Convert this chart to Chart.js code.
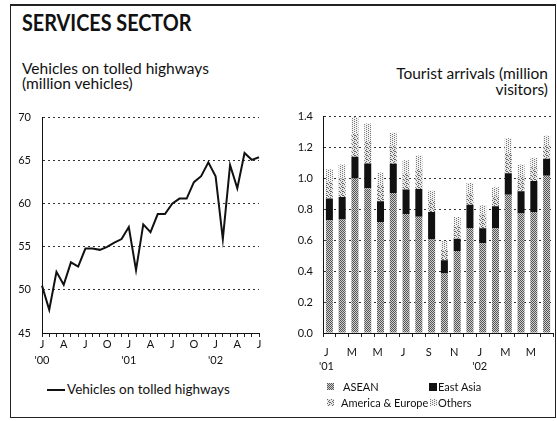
<!DOCTYPE html>
<html><head><meta charset="utf-8">
<script src="https://cdn.jsdelivr.net/npm/chart.js@4"></script>
<style>
html,body{margin:0;padding:0;background:#fff;}
body{width:557px;height:421px;position:relative;overflow:hidden;font-family:Lato,"Open Sans",sans-serif;color:#111;}
#frame{position:absolute;left:10px;top:4px;width:546px;height:414px;border:1px solid #222;border-top:2px solid #222;box-sizing:border-box;}
.t{position:absolute;white-space:nowrap;}
#title{left:22px;top:12px;font-weight:700;font-size:22px;line-height:22px;transform:scaleX(0.9);transform-origin:0 0;}
#ltitle{left:22px;top:61px;font-size:15.5px;line-height:15px;}
#rtitle{right:9px;top:65px;font-size:15.5px;line-height:16px;text-align:right;}
canvas.ch{position:absolute;}
#c1{left:0;top:100px;}
#c2{left:288px;top:100px;}
.leg{position:absolute;font-size:13.5px;line-height:14px;white-space:nowrap;}
.rl{position:absolute;font-size:11px;line-height:13px;white-space:nowrap;display:flex;align-items:center;}
</style></head>
<body>
<div id="frame"></div>
<div class="t" id="title">SERVICES SECTOR</div>
<div class="t" id="ltitle">Vehicles on tolled highways<br>(million vehicles)</div>
<div class="t" id="rtitle">Tourist arrivals (million<br>visitors)</div>
<canvas class="ch" id="c1" width="272" height="270"></canvas>
<canvas class="ch" id="c2" width="269" height="270"></canvas>
<div class="leg" style="left:47px;top:382px;"><span style="display:inline-block;width:18px;height:2px;background:#111;vertical-align:middle;margin-right:2px;position:relative;top:-1px;"></span>Vehicles on tolled highways</div>
<div class="rl" style="left:327px;top:380px;"><canvas id="s0" width="7" height="7" style="margin-right:9px"></canvas>ASEAN</div>
<div class="rl" style="left:327px;top:396px;"><canvas id="s2" width="7" height="7" style="margin-right:7px"></canvas>America &amp; Europe</div>
<div class="rl" style="left:429px;top:380px;"><canvas id="s1" width="8" height="8" style="margin-right:1px"></canvas>East Asia</div>
<div class="rl" style="left:430px;top:396px;"><canvas id="s3" width="7" height="7" style="margin-right:1px"></canvas>Others</div>
<script>
// ---- Left chart data: monthly, Jan 2000 - Jul 2002 ----
const lineMonths = ['Jan00','Feb00','Mar00','Apr00','May00','Jun00','Jul00','Aug00','Sep00','Oct00','Nov00','Dec00',
  'Jan01','Feb01','Mar01','Apr01','May01','Jun01','Jul01','Aug01','Sep01','Oct01','Nov01','Dec01',
  'Jan02','Feb02','Mar02','Apr02','May02','Jun02','Jul02'];
const vehicles = [50.5,47.7,52.1,50.6,53.2,52.7,54.8,54.8,54.65,55.0,55.5,55.9,
  57.3,52.3,57.6,56.7,58.8,58.8,60.0,60.6,60.6,62.5,63.2,64.8,
  63.2,55.9,64.5,61.8,65.9,65.1,65.4];
const lineTickLabels = [["J","'00"],"","","A","","","J","","","O","","",
  ["J","'01"],"","","A","","","J","","","O","","",
  ["J","'02"],"","","A","","","J"];
const lineYTicks = [45,50,55,60,65,70];

// ---- Right chart data: monthly, Jan 2001 - Jun 2002 ----
const barMonths = ['Jan01','Feb01','Mar01','Apr01','May01','Jun01','Jul01','Aug01','Sep01','Oct01','Nov01','Dec01',
  'Jan02','Feb02','Mar02','Apr02','May02','Jun02'];
const asean    = [0.73,0.735,1.00,0.936,0.718,0.905,0.77,0.752,0.605,0.385,0.53,0.68,0.58,0.677,0.894,0.773,0.783,1.017];
const eastAsia = [0.14,0.145,0.14,0.16,0.134,0.19,0.158,0.18,0.178,0.085,0.08,0.15,0.097,0.143,0.14,0.144,0.20,0.11];
const amerEuro = [0.11,0.12,0.15,0.15,0.11,0.12,0.11,0.13,0.08,0.07,0.08,0.08,0.09,0.07,0.13,0.10,0.09,0.09];
const others   = [0.08,0.09,0.105,0.11,0.076,0.08,0.08,0.086,0.057,0.055,0.06,0.06,0.059,0.053,0.096,0.073,0.061,0.059];
const barTickLabels = [["J","'01"],"","M","","M","","J","","S","","N","",["J","'02"],"","M","","M",""];

function pattern(bg, fg, dots, w, h){
  const c=document.createElement('canvas'); c.width=w; c.height=h;
  const x=c.getContext('2d'); x.fillStyle=bg; x.fillRect(0,0,w,h); x.fillStyle=fg;
  dots.forEach(d=>x.fillRect(d[0],d[1],1,1));
  return x.createPattern(c,'repeat');
}
const pASEAN = pattern('#cfcfcf','#555',[[0,0],[2,0],[1,1],[3,1],[0,2],[2,2],[1,3],[3,3]],4,4);
const pAmEu  = pattern('#e6e6e6','#666',[[0,0],[2,1],[1,2],[3,3],[2,3]],4,4);
const pOther = pattern('#f2f2f2','#777',[[0,0],[0,2],[2,1],[2,3]],4,4);
const fills = [pASEAN,'#111',pAmEu,pOther];
['s0','s1','s2','s3'].forEach((id,i)=>{const c=document.getElementById(id);const x=c.getContext('2d');x.fillStyle=fills[i];x.fillRect(0,0,c.width,c.height);});

Chart.defaults.font.family = 'Lato, "Open Sans", sans-serif';
Chart.defaults.color = '#111';
Chart.defaults.animation = false;

new Chart(document.getElementById('c1'), {
  type:'line',
  data:{labels:lineMonths, datasets:[{label:'Vehicles on tolled highways', data:vehicles,
    borderColor:'#111', borderWidth:2, pointRadius:0, tension:0, fill:false}]},
  options:{responsive:false, animation:false,
    layout:{padding:{top:14,right:13,left:0,bottom:0}},
    plugins:{legend:{display:false}, tooltip:{enabled:false}},
    scales:{
      x:{type:'category', offset:false,
        grid:{drawOnChartArea:false, drawTicks:true, tickLength:4, color:'#222', lineWidth:1},
        border:{display:true, color:'#111', width:1, dash:[]},
        ticks:{autoSkip:false, maxRotation:0, minRotation:0, padding:0,
          font:{size:11, lineHeight:1.41}, color:'#111',
          callback:(v,i)=>lineTickLabels[i]},
        afterFit:s=>{s.height=37;}},
      y:{min:45, max:70,
        afterBuildTicks:s=>{s.ticks=lineYTicks.map(v=>({value:v}));},
        grid:{drawTicks:false, color:'#333', lineWidth:1},
        border:{display:true, color:'#111', width:1, dash:[2,3]},
        ticks:{padding:11, font:{size:11}, color:'#111'},
        afterFit:s=>{s.width=42;}}
    }}
});

new Chart(document.getElementById('c2'), {
  type:'bar',
  data:{labels:barMonths, datasets:[
    {label:'ASEAN', data:asean, backgroundColor:pASEAN},
    {label:'East Asia', data:eastAsia, backgroundColor:'#111'},
    {label:'America & Europe', data:amerEuro, backgroundColor:pAmEu},
    {label:'Others', data:others, backgroundColor:pOther}]},
  options:{responsive:false, animation:false,
    layout:{padding:{top:13,right:4,left:0,bottom:0}},
    datasets:{bar:{barPercentage:0.55, categoryPercentage:1.0, borderWidth:0}},
    plugins:{legend:{display:false}, tooltip:{enabled:false}},
    scales:{
      x:{stacked:true,
        grid:{drawOnChartArea:false, drawTicks:true, tickLength:4, color:'#222', lineWidth:1},
        border:{display:true, color:'#111', width:1, dash:[]},
        ticks:{autoSkip:false, maxRotation:0, minRotation:0, padding:8, labelOffset:-3,
          font:{size:11, lineHeight:1.27}, color:'#111',
          callback:(v,i)=>barTickLabels[i]},
        afterFit:s=>{s.height=37;}},
      y:{stacked:true, min:0, max:1.4,
        ticks:{stepSize:0.2, padding:10, font:{size:11}, color:'#111',
          callback:v=>Number(v).toFixed(1)},
        grid:{drawTicks:false, color:'#333', lineWidth:1},
        border:{display:true, color:'#111', width:1, dash:[2,3]},
        afterFit:s=>{s.width=35;}}
    }}
});
</script>
</body></html>
